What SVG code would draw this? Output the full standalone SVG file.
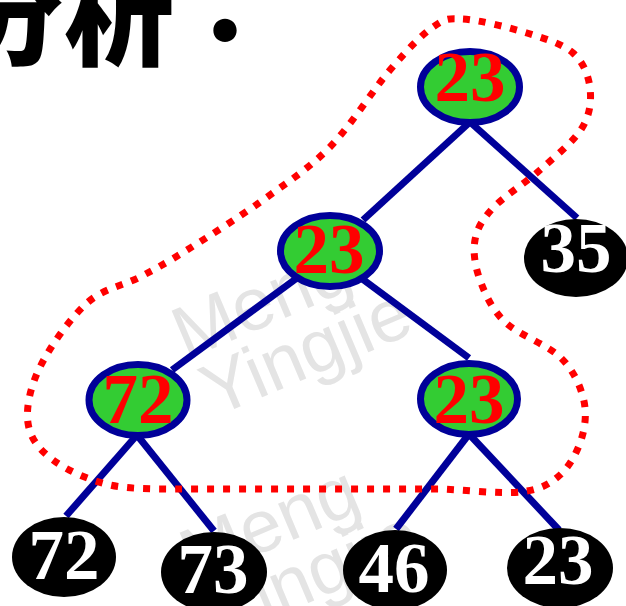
<svg xmlns="http://www.w3.org/2000/svg" width="626" height="606" viewBox="0 0 626 606">
<style>
.wm{font-family:"Liberation Sans",Arial,sans-serif;font-size:74px;fill:#e4e4e4}
.edge{stroke:#000099;stroke-width:7;fill:none}
.inner ellipse{fill:#33cc33;stroke:#000099;stroke-width:7}
.inner text{fill:#ff0000}
.leaf ellipse{fill:#000000}
.leaf text{fill:#ffffff}
.num{font-family:"Liberation Serif","Times New Roman",serif;font-weight:bold;font-size:71px;text-anchor:middle}
.title{font-family:"Noto Sans CJK SC","Noto Sans CJK JP",sans-serif;font-weight:900;font-size:110px;fill:#000}
</style>
<rect width="626" height="606" fill="#ffffff"/>
<g id="watermark">
<g transform="translate(186,360) rotate(-23)"><text class="wm" x="0" y="0">Meng</text><text class="wm" x="4" y="64">Yingjie</text></g>
<g transform="translate(194,582) rotate(-23)"><text class="wm" x="0" y="0">Meng</text><text class="wm" x="4" y="64">Yingjie</text></g>
</g>
<g id="title">
<text class="title" x="-46" y="57">分析</text>
<text class="title" x="170" y="45" style="font-family:'Noto Sans CJK JP','Noto Sans CJK TC',sans-serif">：</text>
</g>
<g id="connectors">
<line class="edge" x1="470" y1="122" x2="363" y2="220"/>
<line class="edge" x1="470" y1="122" x2="577" y2="218"/>
<line class="edge" x1="297" y1="278" x2="172" y2="370"/>
<line class="edge" x1="361" y1="278" x2="469" y2="358"/>
<line class="edge" x1="137" y1="435" x2="66" y2="516"/>
<line class="edge" x1="137" y1="435" x2="214" y2="531"/>
<line class="edge" x1="469" y1="434" x2="396" y2="529"/>
<line class="edge" x1="469" y1="434" x2="559" y2="530"/>
</g>
<g id="n_root" class="inner"><ellipse cx="470" cy="87" rx="49.5" ry="35.5"/><text class="num" x="470" y="101">23</text></g>
<g id="n_l1" class="inner"><ellipse cx="330" cy="251" rx="49.5" ry="35.5"/><text class="num" x="329" y="273">23</text></g>
<g id="n_l2a" class="inner"><ellipse cx="138" cy="400" rx="49" ry="35.5"/><text class="num" x="138" y="423">72</text></g>
<g id="n_l2b" class="inner"><ellipse cx="469" cy="399" rx="48.5" ry="35.5"/><text class="num" x="469" y="423">23</text></g>
<g id="leaf35" class="leaf"><ellipse cx="576" cy="258" rx="52" ry="39"/><text class="num" x="576" y="272">35</text></g>
<g id="leaf72" class="leaf"><ellipse cx="64" cy="557" rx="52" ry="40"/><text class="num" x="64" y="579">72</text></g>
<g id="leaf73" class="leaf"><ellipse cx="214" cy="572" rx="53" ry="40"/><text class="num" x="213" y="593">73</text></g>
<g id="leaf46" class="leaf"><ellipse cx="395" cy="570" rx="52" ry="40"/><text class="num" x="394" y="592">46</text></g>
<g id="leaf23" class="leaf"><ellipse cx="560" cy="568" rx="53" ry="40"/><text class="num" x="558" y="584">23</text></g>
<g id="region">
<path fill="none" stroke="#ff0000" stroke-width="7" stroke-dasharray="7 9" d="M463,19 C478.7,20 508.7,27.3 527,33 C545.3,38.7 562.5,43.8 573,53 C583.5,62.2 588.5,75.5 590,88 C591.5,100.5 590.3,114.3 582,128 C573.7,141.7 554.8,156.7 540,170 C525.2,183.3 503.8,196.3 493,208 C482.2,219.7 477.2,228 475,240 C472.8,252 475,266.3 480,280 C485,293.7 491.7,309.2 505,322 C518.3,334.8 547,344.5 560,357 C573,369.5 579.3,383.7 583,397 C586.7,410.3 585.8,424 582,437 C578.2,450 570.3,465.8 560,475 C549.7,484.2 540,489.7 520,492 C500,494.3 453,489 440,489 L180,489 C167,489 131.2,489.8 110,485 C88.8,480.2 66.7,470.3 53,460 C39.3,449.7 30.2,438.5 28,423 C25.8,407.5 30.2,387 40,367 C49.8,347 70.3,318 87,303 C103.7,288 123.3,285.8 140,277 C156.7,268.2 166.5,262.8 187,250 C207.5,237.2 239.2,217.2 263,200 C286.8,182.8 308.8,168.7 330,147 C351.2,125.3 372.8,90 390,70 C407.2,50 420.8,35.5 433,27 C445.2,18.5 447.3,18 463,19 Z"/>
</g>
</svg>
